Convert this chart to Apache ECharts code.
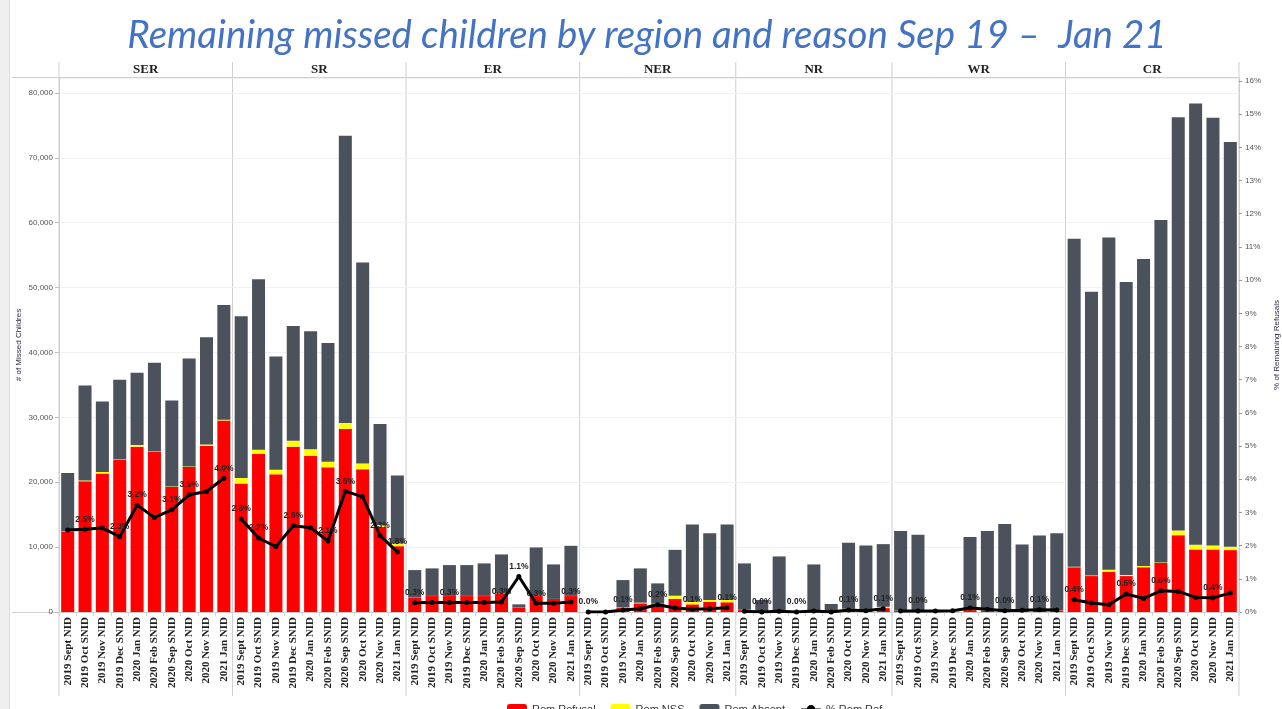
<!DOCTYPE html>
<html>
<head>
<meta charset="utf-8">
<script src="https://cdn.jsdelivr.net/npm/echarts@6/dist/echarts.min.js"></script>
<style>
html, body { margin: 0; padding: 0; background: #fff; }
#main { width: 1282px; height: 709px; }
</style>
</head>
<body>
<div id="main"></div>
<script>
// campaigns shown under each region
const campaigns = ['2019 Sept NID', '2019 Oct SNID', '2019 Nov NID', '2019 Dec SNID', '2020 Jan NID',
  '2020 Feb SNID', '2020 Sep SNID', '2020 Oct NID', '2020 Nov NID', '2021 Jan NID'];
const campaignsNER = ['2019 Sept NID', '2019 Oct SNID', '2019 Nov NID', '2020 Jan NID', '2020 Feb SNID',
  '2020 Sep SNID', '2020 Oct NID', '2020 Nov NID', '2021 Jan NID'];
const campaignsNR = ['2019 Sept NID', '2019 Oct SNID', '2019 Nov NID', '2019 Dec SNID', '2020 Jan NID',
  '2020 Feb SNID', '2020 Oct NID', '2020 Nov NID', '2021 Jan NID'];

// SER
const serRefusal = [12350, 20150, 21330, 23420, 25480, 24660, 19270, 22350, 25580, 29530];
const serNss = [60, 120, 250, 100, 250, 80, 80, 80, 250, 100];
const serAbsent = [9010, 14640, 10870, 12270, 11140, 13660, 13260, 16630, 16520, 17700];
const serPct = [2.47, 2.49, 2.53, 2.27, 3.22, 2.85, 3.08, 3.53, 3.63, 4.03];
const serLabelAt = [1, 3, 4, 6, 7, 9];
// SR
const srRefusal = [19790, 24400, 21220, 25480, 24100, 22300, 28200, 22000, 13120, 10150];
const srNss = [870, 620, 720, 920, 970, 870, 920, 870, 300, 420];
const srAbsent = [24910, 26250, 17430, 17690, 18200, 18300, 44290, 31010, 15540, 10450];
const srPct = [2.80, 2.23, 1.97, 2.60, 2.54, 2.14, 3.64, 3.47, 2.30, 1.81];
const srLabelAt = [0, 1, 3, 5, 6, 8, 9];
// ER
const erRefusal = [2200, 2460, 2460, 2460, 2460, 2870, 720, 2460, 2000, 2460];
const erNss = [20, 20, 20, 20, 20, 20, 20, 20, 20, 20];
const erAbsent = [4240, 4240, 4750, 4750, 5010, 5980, 440, 7470, 5310, 7720];
const erPct = [0.28, 0.29, 0.29, 0.29, 0.29, 0.30, 1.07, 0.26, 0.26, 0.30];
const erLabelAt = [0, 2, 5, 6, 7, 9];
// NER
const nerRefusal = [0, 0, 700, 1340, 1230, 2000, 1180, 1540, 1500];
const nerNss = [0, 0, 50, 100, 50, 510, 410, 310, 350];
const nerAbsent = [0, 0, 4170, 5280, 3130, 7070, 11900, 10300, 11640];
const nerPct = [0.0, 0.0, 0.06, 0.1, 0.22, 0.12, 0.08, 0.1, 0.13];
const nerLabelAt = [0, 2, 4, 6, 8];
// NR
const nrRefusal = [300, 60, 60, 0, 100, 30, 250, 150, 600];
const nrNss = [50, 20, 200, 0, 200, 20, 250, 250, 200];
const nrAbsent = [7140, 1770, 8300, 0, 7030, 1180, 10160, 9860, 9660];
const nrPct = [0.02, 0.0, 0.02, 0.0, 0.03, 0.0, 0.06, 0.04, 0.1];
const nrLabelAt = [1, 3, 6, 8];
// WR
const wrRefusal = [150, 150, 0, 0, 300, 200, 150, 150, 200, 250];
const wrNss = [30, 30, 0, 0, 50, 30, 30, 30, 30, 30];
const wrAbsent = [12320, 11710, 0, 0, 11190, 12270, 13400, 10230, 11570, 11870];
const wrPct = [0.03, 0.03, 0.03, 0.04, 0.12, 0.08, 0.04, 0.05, 0.07, 0.06];
const wrLabelAt = [1, 4, 6, 8];
// CR
const crRefusal = [6900, 5540, 6180, 5540, 6900, 7550, 11840, 9640, 9640, 9540];
const crNss = [80, 80, 350, 150, 200, 80, 710, 730, 600, 500];
const crAbsent = [50560, 43750, 51180, 45160, 47320, 52770, 63720, 67990, 65920, 62400];
const crPct = [0.37, 0.27, 0.22, 0.54, 0.41, 0.64, 0.62, 0.44, 0.43, 0.57];
const crLabelAt = [0, 3, 5, 8];

const regionData = [
  { name: 'SER', cats: campaigns, refusal: serRefusal, nss: serNss, absent: serAbsent, pct: serPct, labels: serLabelAt },
  { name: 'SR', cats: campaigns, refusal: srRefusal, nss: srNss, absent: srAbsent, pct: srPct, labels: srLabelAt },
  { name: 'ER', cats: campaigns, refusal: erRefusal, nss: erNss, absent: erAbsent, pct: erPct, labels: erLabelAt },
  { name: 'NER', cats: campaignsNER, refusal: nerRefusal, nss: nerNss, absent: nerAbsent, pct: nerPct, labels: nerLabelAt },
  { name: 'NR', cats: campaignsNR, refusal: nrRefusal, nss: nrNss, absent: nrAbsent, pct: nrPct, labels: nrLabelAt },
  { name: 'WR', cats: campaigns, refusal: wrRefusal, nss: wrNss, absent: wrAbsent, pct: wrPct, labels: wrLabelAt },
  { name: 'CR', cats: campaigns, refusal: crRefusal, nss: crNss, absent: crAbsent, pct: crPct, labels: crLabelAt }
];

const PLOT_L = 59, PLOT_R = 1239, PLOT_T = 78, PLOT_B = 612;
const nCats = regionData.reduce((s, r) => s + r.cats.length, 0);
const slot = (PLOT_R - PLOT_L) / nCats;
const sepColor = '#cfcfcf';
const tickFont = '"Liberation Sans", Arial, sans-serif';

const grids = [], xAxes = [], yAxes = [], series = [];
const graphics = [
  { type: 'rect', shape: { x: 0, y: 0, width: 9, height: 709 }, style: { fill: '#efefef' }, silent: true },
  { type: 'line', shape: { x1: 9.5, y1: 0, x2: 9.5, y2: 709 }, style: { stroke: '#dcdcdc', lineWidth: 1 }, silent: true },
  { type: 'line', shape: { x1: 12, y1: PLOT_T - 0.5, x2: PLOT_R, y2: PLOT_T - 0.5 }, style: { stroke: sepColor, lineWidth: 1 }, silent: true },
  { type: 'line', shape: { x1: 12, y1: PLOT_B + 0.5, x2: PLOT_L, y2: PLOT_B + 0.5 }, style: { stroke: sepColor, lineWidth: 1 }, silent: true },
  // chart title
  { type: 'text', x: 647, y: 36, silent: true,
    style: { text: 'Remaining missed children by region and reason Sep 19 \u2013  Jan 21',
      textAlign: 'center', textVerticalAlign: 'middle',
      font: 'italic 38.5px Lato, sans-serif', fill: '#4472c4' } }
];

let cum = 0;
const edges = [PLOT_L];
regionData.forEach((r, i) => {
  const left = PLOT_L + cum * slot;
  const width = r.cats.length * slot;
  cum += r.cats.length;
  edges.push(PLOT_L + cum * slot);

  grids.push({ left: left, top: PLOT_T, width: width, height: PLOT_B - PLOT_T, outerBoundsMode: 'none' });

  graphics.push({
    type: 'text', x: left + width / 2, y: 70, silent: true,
    style: { text: r.name, textAlign: 'center', textVerticalAlign: 'middle',
      font: 'bold 13px "Liberation Serif", serif', fill: '#222' }
  });

  xAxes.push({
    type: 'category', gridIndex: i, data: r.cats,
    axisLine: { lineStyle: { color: '#c8c8c8' } },
    axisTick: { show: true, length: 4, lineStyle: { color: '#d6d6d6' } },
    axisLabel: { interval: 0, rotate: 90, margin: 5, fontFamily: '"Liberation Serif", serif',
      fontWeight: 'bold', fontSize: 11, color: '#222' }
  });

  const first = i === 0, last = i === regionData.length - 1;
  yAxes.push({
    type: 'value', gridIndex: i, min: 0, max: 82300, interval: 10000,
    name: first ? '# of Missed Childres' : '', nameLocation: 'middle', nameGap: 36, nameRotate: 90,
    nameTextStyle: { fontSize: 8, color: '#2d2d44', fontFamily: tickFont },
    axisLine: { show: first, lineStyle: { color: sepColor } },
    axisTick: { show: first, length: 4, lineStyle: { color: '#bbb' } },
    axisLabel: { show: first, showMaxLabel: false, fontSize: 8, color: '#555', fontFamily: tickFont, margin: 6,
      formatter: v => v.toLocaleString('en-US') },
    splitLine: { show: true, lineStyle: { color: '#f2f2f2' } }
  });
  yAxes.push({
    type: 'value', gridIndex: i, position: 'right', min: 0, max: 16.09, interval: 1,
    name: last ? '% of Remaining Refusals' : '', nameLocation: 'middle', nameGap: 34, nameRotate: 90,
    nameTextStyle: { fontSize: 8, color: '#2d2d44', fontFamily: tickFont },
    axisLine: { show: last, lineStyle: { color: sepColor } },
    axisTick: { show: last, length: 3, lineStyle: { color: '#999' } },
    axisLabel: { show: last, showMaxLabel: false, fontSize: 8, color: '#555', fontFamily: tickFont, margin: 6,
      formatter: '{value}%' },
    splitLine: { show: false }
  });

  const barBase = { type: 'bar', xAxisIndex: i, yAxisIndex: 2 * i, stack: 'r' + i, barCategoryGap: '25%', z: 2 };
  series.push(Object.assign({}, barBase, { name: 'Rem Refusal', data: r.refusal, itemStyle: { color: '#ff0000' } }));
  series.push(Object.assign({}, barBase, { name: 'Rem NSS', data: r.nss, itemStyle: { color: '#ffff00' } }));
  series.push(Object.assign({}, barBase, { name: 'Rem Absent', data: r.absent, itemStyle: { color: '#4b525c' } }));
  series.push({
    type: 'line', name: '% Rem Ref', xAxisIndex: i, yAxisIndex: 2 * i + 1, z: 5,
    data: r.pct.map((v, k) => ({ value: v, label: { show: r.labels.includes(k) } })),
    symbol: 'circle', symbolSize: 5,
    lineStyle: { color: '#000', width: 3 }, itemStyle: { color: '#000' },
    label: { show: false, position: 'top', distance: 3, fontSize: 8.5, fontWeight: 'bold', color: '#222',
      fontFamily: tickFont, formatter: p => p.value.toFixed(1) + '%' }
  });
});

edges.forEach(x => {
  graphics.push({ type: 'line', silent: true, shape: { x1: x, y1: 62, x2: x, y2: 696 },
    style: { stroke: sepColor, lineWidth: 1 } });
});

const chart = echarts.init(document.getElementById('main'));
chart.setOption({
  backgroundColor: '#fff',
  animation: false,
  legend: {
    data: ['Rem Refusal', 'Rem NSS', 'Rem Absent', '% Rem Ref'],
    left: 502, top: 699, itemWidth: 20, itemHeight: 11, itemGap: 15,
    textStyle: { fontSize: 11, color: '#333', fontFamily: tickFont }
  },
  grid: grids,
  xAxis: xAxes,
  yAxis: yAxes,
  series: series,
  graphic: graphics
});
</script>
</body>
</html>
